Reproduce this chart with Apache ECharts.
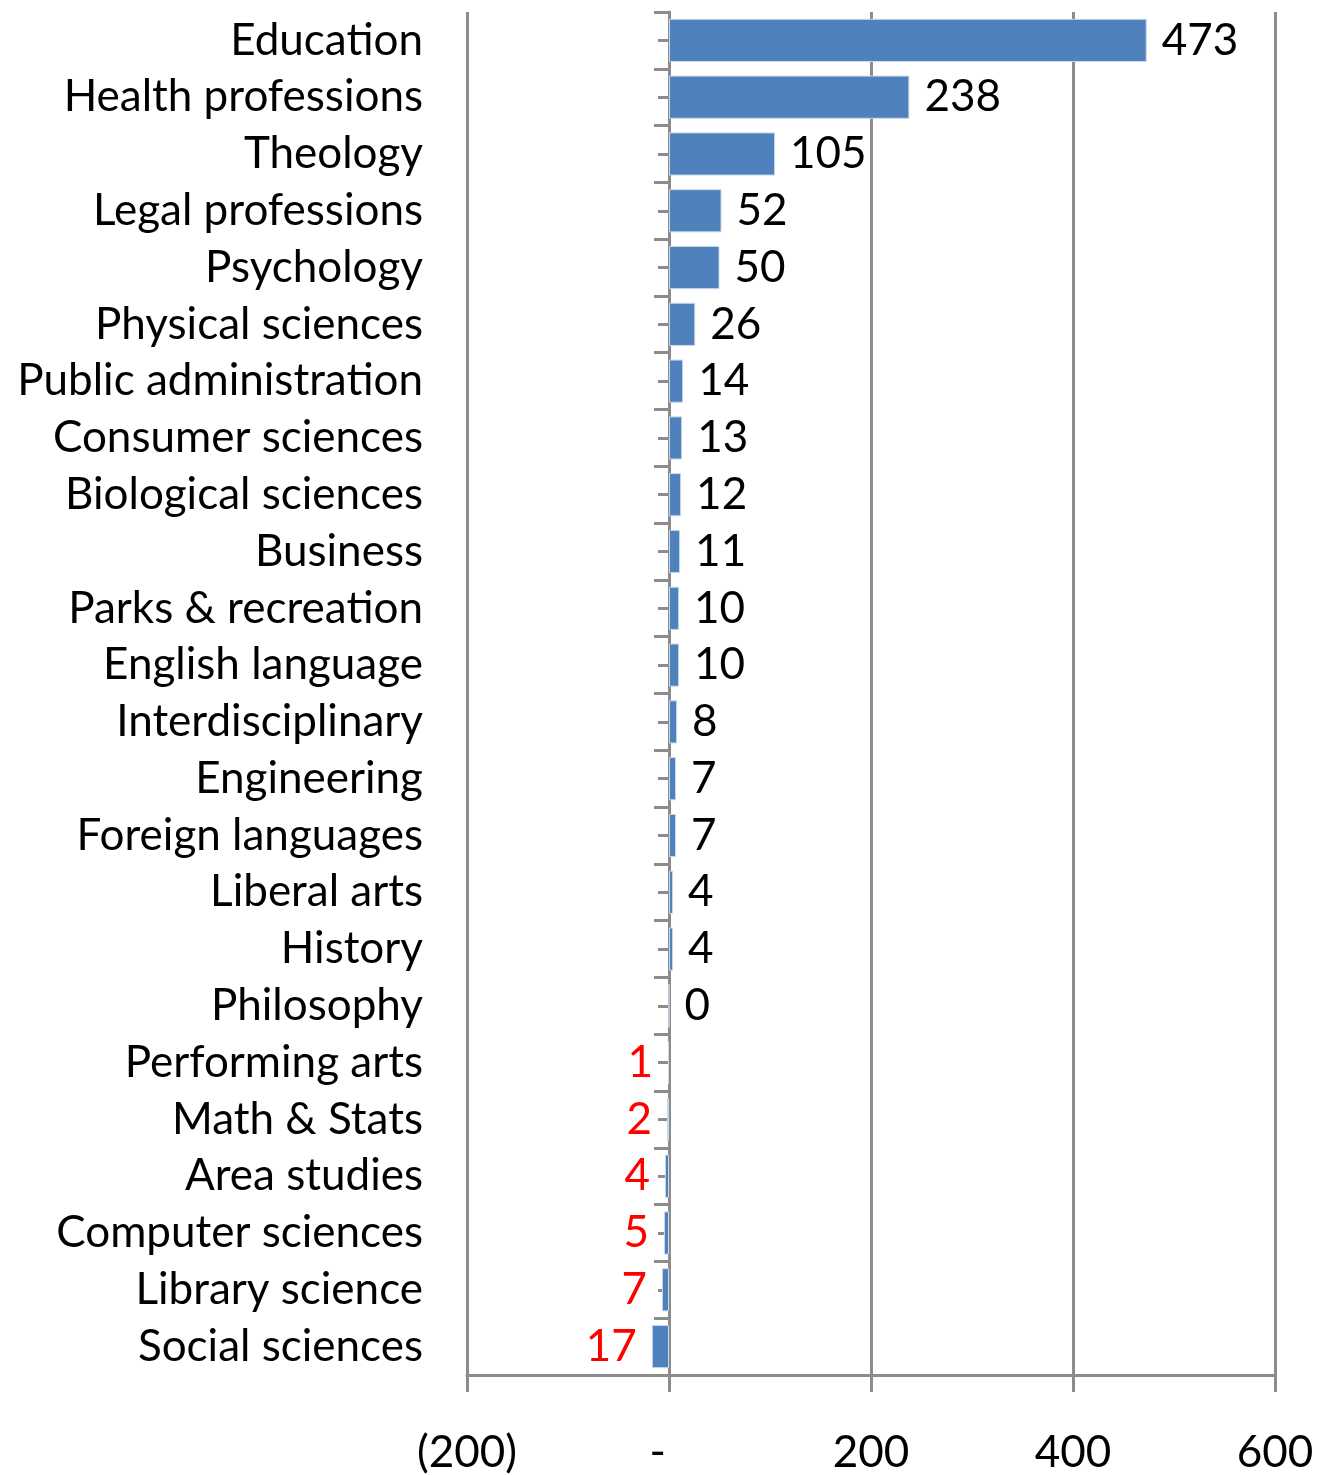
<!DOCTYPE html>
<html>
<head>
<meta charset="utf-8">
<script src="https://cdn.jsdelivr.net/npm/echarts@6/dist/echarts.min.js"></script>
<style>
  html, body { margin: 0; padding: 0; background: #fff; }
  #main { width: 1323px; height: 1475px; }
</style>
</head>
<body>
<div id="main"></div>
<script>
// categories, top to bottom
var categories = [
  'Education', 'Health professions', 'Theology', 'Legal professions', 'Psychology',
  'Physical sciences', 'Public administration', 'Consumer sciences', 'Biological sciences',
  'Business', 'Parks & recreation', 'English language', 'Interdisciplinary', 'Engineering',
  'Foreign languages', 'Liberal arts', 'History', 'Philosophy', 'Performing arts',
  'Math & Stats', 'Area studies', 'Computer sciences', 'Library science', 'Social sciences'
];
var values = [473, 238, 105, 52, 50, 26, 14, 13, 12, 11, 10, 10, 8, 7, 7, 4, 4, 0, -1, -2, -4, -5, -7, -17];
var xTicks = [-200, 0, 200, 400, 600];

var FONT = 'Lato';
var GRAY = '#8c8c8c';

var chartDom = document.getElementById('main');
var myChart = echarts.init(chartDom);

var seriesData = values.map(function (v) {
  return {
    value: v,
    label: {
      position: v < 0 ? 'left' : 'right',
      color: v < 0 ? '#ff0000' : '#000000'
    }
  };
});

var option = {
  backgroundColor: '#ffffff',
  animation: false,
  grid: { left: 467, right: 48, top: 12, bottom: 99, containLabel: false },
  xAxis: {
    type: 'value',
    min: xTicks[0],
    max: xTicks[xTicks.length - 1],
    interval: 200,
    axisLine: { show: true, onZero: false, lineStyle: { color: GRAY, width: 3 } },
    axisTick: { show: true, length: 17, lineStyle: { color: GRAY, width: 3 } },
    splitLine: { show: true, lineStyle: { color: GRAY, width: 3 } },
    axisLabel: {
      margin: 56,
      fontFamily: FONT,
      fontSize: 44,
      color: '#000',
      formatter: function (v) {
        if (v === 0) return '-  ';
        if (v < 0) return '(' + Math.abs(v) + ')';
        return String(v);
      }
    }
  },
  yAxis: [
    {
      // text labels on the left
      type: 'category',
      data: categories,
      inverse: true,
      position: 'left',
      axisLine: { show: false, onZero: false },
      axisTick: { show: false },
      axisLabel: { interval: 0, margin: 44, fontFamily: FONT, fontSize: 44, color: '#000' }
    },
    {
      // zero line with boundary ticks
      type: 'category',
      data: categories,
      inverse: true,
      position: 'left',
      axisLine: { show: true, onZero: true, onZeroAxisIndex: 0, lineStyle: { color: GRAY, width: 3 } },
      axisTick: { show: true, interval: 0, length: 15, lineStyle: { color: GRAY, width: 3 } },
      axisLabel: { show: false }
    },
    {
      // shorter ticks at category centers
      type: 'category',
      data: categories,
      inverse: true,
      position: 'left',
      axisLine: { show: true, onZero: true, onZeroAxisIndex: 0, lineStyle: { color: GRAY, width: 3, opacity: 0 } },
      axisTick: { show: true, interval: 0, alignWithLabel: true, length: 11, lineStyle: { color: GRAY, width: 3 } },
      axisLabel: { show: false }
    }
  ],
  series: [
    {
      type: 'bar',
      yAxisIndex: 0,
      data: seriesData,
      barCategoryGap: '24%',
      itemStyle: { color: '#4f81bd', borderColor: '#c9d7ea', borderWidth: 1 },
      label: {
        show: true,
        distance: 15,
        fontFamily: FONT,
        fontSize: 44,
        formatter: function (p) { return String(Math.abs(p.value)); }
      }
    }
  ]
};
myChart.setOption(option);
</script>
</body>
</html>
